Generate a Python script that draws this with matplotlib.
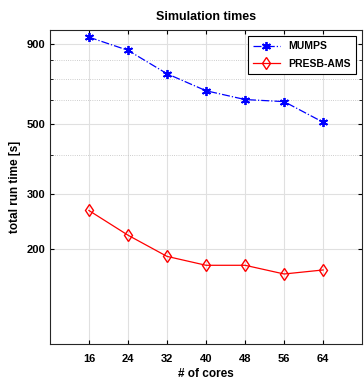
import numpy as np
import matplotlib
matplotlib.use('Agg')
import matplotlib.pyplot as plt
from matplotlib.ticker import FixedLocator, FixedFormatter, NullFormatter

plt.rcParams['font.family'] = ['Liberation Sans', 'DejaVu Sans']
plt.rcParams['font.weight'] = 'bold'

cores = [16, 24, 32, 40, 48, 56, 64]
mumps = [948, 861, 725, 640, 600, 591, 508]
presb = [266, 222, 190, 178, 178, 167, 172]
yticks = [200, 300, 500, 900]

fig = plt.figure(figsize=(3.64, 3.83), dpi=100)
ax = fig.add_axes([0.137, 0.102, 0.858, 0.820])

ax.plot(cores, mumps, color='blue', linestyle='-.', marker=(6, 2, 0), markersize=6.5,
        markeredgewidth=1.3, linewidth=0.9, label='MUMPS')
ax.plot(cores, presb, color='red', linestyle='-', marker='d', markersize=6,
        markerfacecolor='none', markeredgewidth=1.0, linewidth=0.9, label='PRESB-AMS')

ax.set_yscale('log')
ax.set_xlim(8, 72)
ax.set_ylim(100, 1000)
ax.set_xticks(cores)
ax.yaxis.set_major_locator(FixedLocator(yticks))
ax.yaxis.set_major_formatter(FixedFormatter([str(v) for v in yticks]))
ax.yaxis.set_minor_locator(FixedLocator([v for v in range(100, 1001, 100) if v not in yticks]))
ax.yaxis.set_minor_formatter(NullFormatter())

ax.grid(True, which='major', color='#e0e0e0', linewidth=0.8, linestyle='-')
ax.grid(True, which='minor', axis='y', color='#bdbdbd', linewidth=0.6, linestyle=':')
ax.set_axisbelow(True)

ax.tick_params(which='both', direction='in', top=True, right=True, labelsize=8, length=3)
ax.tick_params(which='minor', length=2)
ax.tick_params(axis='x', pad=7)
for s in ax.spines.values():
    s.set_linewidth(0.8)
    s.set_color('#262626')

ax.set_title('Simulation times', fontsize=9, fontweight='bold', pad=7)
ax.set_xlabel('# of cores', fontsize=8.5, fontweight='bold', labelpad=3)
ax.set_ylabel('total run time [s]', fontsize=8.5, fontweight='bold')

leg = ax.legend(loc='upper right', fontsize=7.5, fancybox=False, framealpha=1,
                edgecolor='black', borderaxespad=0.6, handlelength=2.6,
                labelspacing=0.7, borderpad=0.5)
leg.get_frame().set_linewidth(0.8)

fig.savefig('out.png', dpi=100)
